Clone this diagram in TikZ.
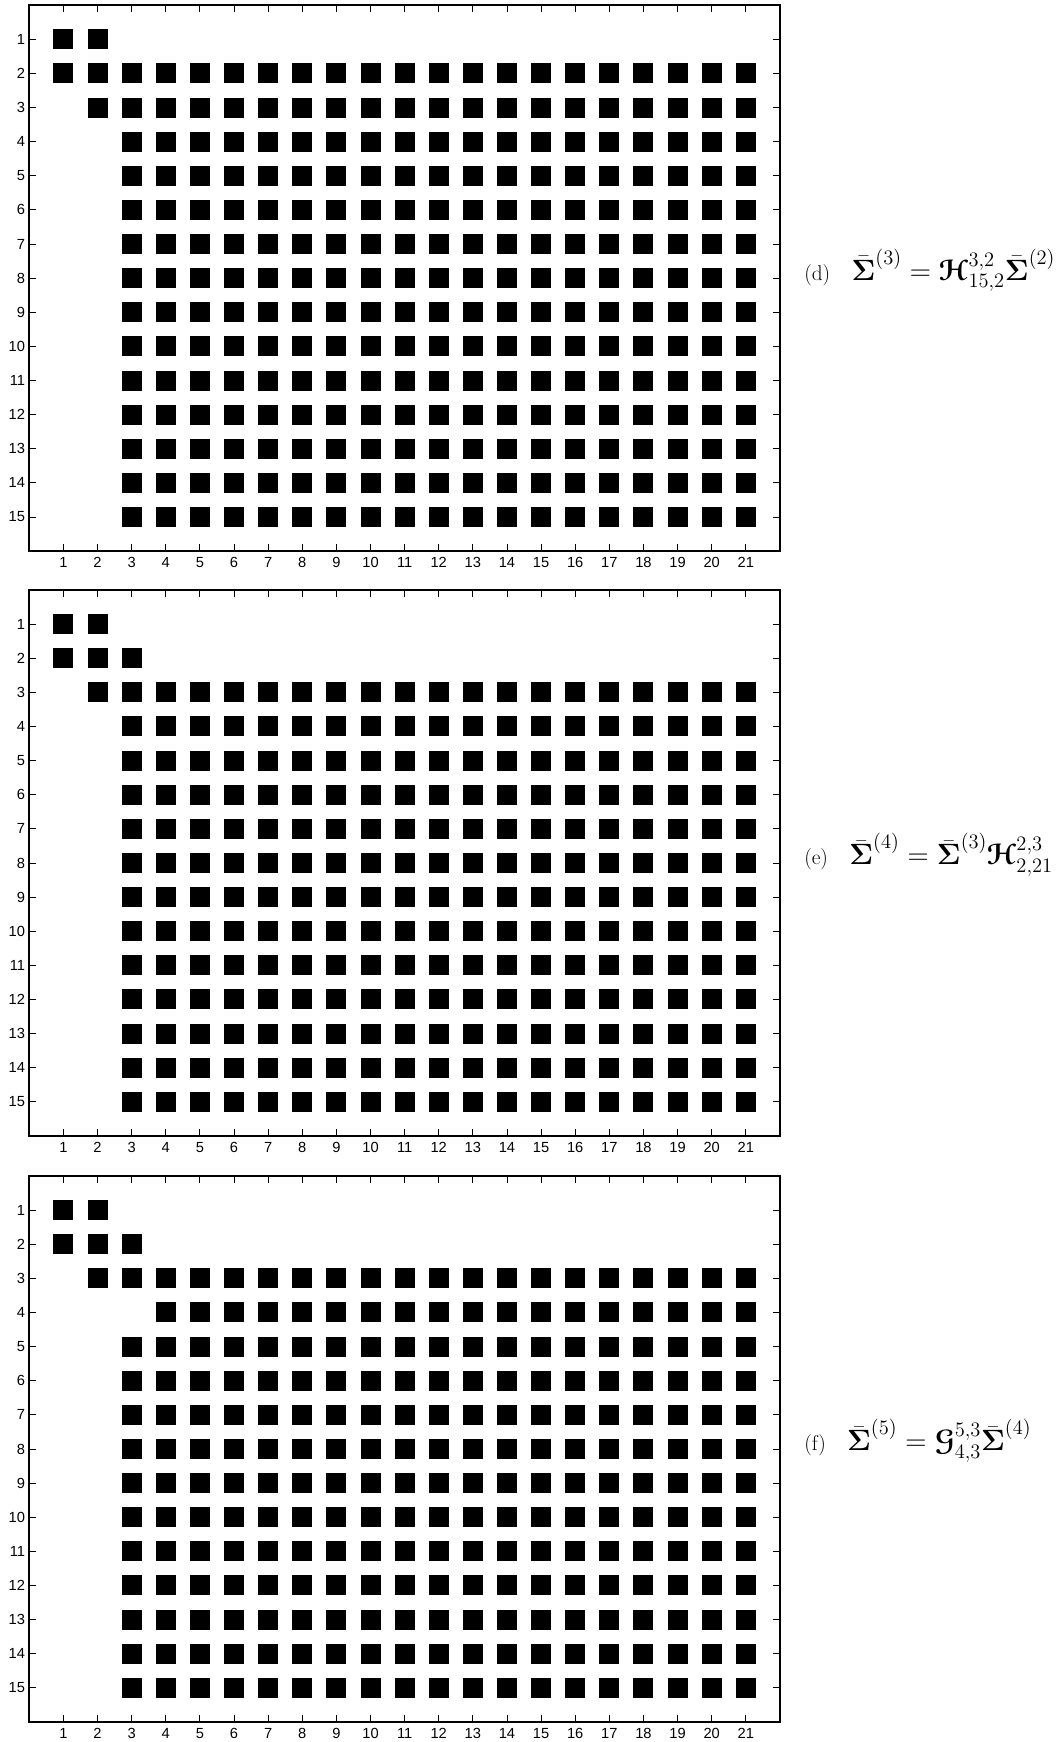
\RequirePackage{fix-cm}
\documentclass[tikz,border=0pt]{standalone}
\usepackage{amsmath,amssymb}
\usepackage{bm}
\usepackage[mathscr]{eucal}
\DeclareFontFamily{U}{eus}{\skewchar\font'60}
\DeclareFontShape{U}{eus}{m}{n}{<-6>eusm5<6-8>eusm7<8->eusm10}{}
\DeclareFontShape{U}{eus}{b}{n}{<-6>eusb5<6-8>eusb7<8->eusb10}{}
\usepackage{fontspec}
\newfontfamily\axisfont{Liberation Sans}
\newcommand{\Ucell}{34.12}
\newcommand{\XLeft}{29.3}
\newcommand{\rowsq}[4]{%
  \foreach \c in {#3,...,#4}{%
    \fill[black] ({\XLeft+\c*\Ucell-10},{#1+#2*\Ucell-10}) rectangle ++(20,20);
  }%
}
\newcommand{\capmath}[1]{{\fontsize{22}{26}\selectfont$#1$}}
\begin{document}
\begin{tikzpicture}[x=0.75pt,y=-0.75pt,
  frameline/.style={line width=1.3pt},
  tickline/.style={line width=0.7pt},
  ticklab/.style={font=\axisfont\fontsize{11}{13}\selectfont, inner sep=0pt},
  caplab/.style={font=\fontsize{16}{19}\selectfont, anchor=base west, inner sep=0pt}]
\useasboundingbox (0,0) rectangle (1058,1742);
\foreach \p/\tp in {1/5.2, 2/590, 3/1176}{
  \draw[frameline] (\XLeft,\tp) rectangle ({\XLeft+22*\Ucell},{\tp+16*\Ucell});
  \foreach \i in {1,...,21}{
    \draw[tickline] ({\XLeft+\i*\Ucell},\tp) -- ++(0,7);
    \draw[tickline] ({\XLeft+\i*\Ucell},{\tp+16*\Ucell}) -- ++(0,-7);
    \node[ticklab, anchor=north] (xl\p-\i) at ({\XLeft+\i*\Ucell},{\tp+16*\Ucell+6}) {\i};
  }
  \foreach \j in {1,...,15}{
    \draw[tickline] (\XLeft,{\tp+\j*\Ucell}) -- ++(7,0);
    \draw[tickline] ({\XLeft+22*\Ucell},{\tp+\j*\Ucell}) -- ++(-7,0);
    \node[ticklab, anchor=east] (yl\p-\j) at ({\XLeft-4},{\tp+\j*\Ucell}) {\j};
  }
}
% panel (d)
\rowsq{5.2}{1}{1}{2}
\rowsq{5.2}{2}{1}{21}
\rowsq{5.2}{3}{2}{21}
\foreach \r in {4,...,15}{\rowsq{5.2}{\r}{3}{21}}
% panel (e)
\rowsq{590}{1}{1}{2}
\rowsq{590}{2}{1}{3}
\rowsq{590}{3}{2}{21}
\foreach \r in {4,...,15}{\rowsq{590}{\r}{3}{21}}
% panel (f)
\rowsq{1176}{1}{1}{2}
\rowsq{1176}{2}{1}{3}
\rowsq{1176}{3}{2}{21}
\rowsq{1176}{4}{4}{21}
\foreach \r in {5,...,15}{\rowsq{1176}{\r}{3}{21}}
% captions
\node[caplab] (capd) at (804,{5.2+8*\Ucell+2}) {(d)\hspace{1em}\capmath{\bar{\bm{\Sigma}}^{(3)}=\bm{\mathscr{H}}^{3,2}_{15,2}\bar{\bm{\Sigma}}^{(2)}}};
\node[caplab] (cape) at (804,{590+8*\Ucell+2}) {(e)\hspace{1em}\capmath{\bar{\bm{\Sigma}}^{(4)}=\bar{\bm{\Sigma}}^{(3)}\bm{\mathscr{H}}^{2,3}_{2,21}}};
\node[caplab] (capf) at (804,{1176+8*\Ucell+2}) {(f)\hspace{1em}\capmath{\bar{\bm{\Sigma}}^{(5)}=\bm{\mathscr{G}}^{5,3}_{4,3}\bar{\bm{\Sigma}}^{(4)}}};
\end{tikzpicture}
\end{document}
